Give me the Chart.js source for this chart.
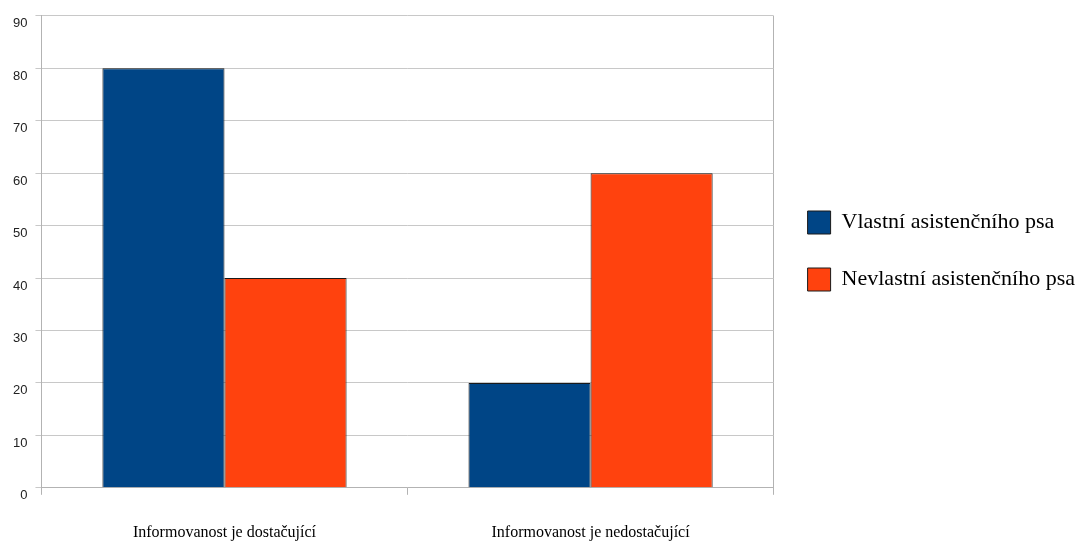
<!DOCTYPE html>
<html>
<head>
<meta charset="utf-8">
<script src="https://cdn.jsdelivr.net/npm/chart.js@4/dist/chart.umd.min.js"></script>
<style>
  html, body { margin: 0; padding: 0; background: #fff; }
  #wrap { width: 1088px; height: 542px; }
</style>
</head>
<body>
<div id="wrap"><canvas id="chart"></canvas></div>
<script>
const categories = ["Informovanost je dostačující", "Informovanost je nedostačující"];
const seriesNames = ["Vlastní asistenčního psa", "Nevlastní asistenčního psa"];
const vlastni = [80, 20];
const nevlastni = [40, 60];
const yTicks = [0, 10, 20, 30, 40, 50, 60, 70, 80, 90];

const colors = ["#004586", "#ff420e"];

new Chart(document.getElementById("chart"), {
  type: "bar",
  data: {
    labels: categories,
    datasets: [
      {
        label: seriesNames[0],
        data: vlastni,
        backgroundColor: colors[0],
        borderColor: "#1a1a1a",
        borderWidth: 1,
      },
      {
        label: seriesNames[1],
        data: nevlastni,
        backgroundColor: colors[1],
        borderColor: "#1a1a1a",
        borderWidth: 1,
      },
    ],
  },
  options: {
    responsive: true,
    maintainAspectRatio: false,
    animation: false,
    layout: { padding: { left: 5, top: 11, right: 3, bottom: -28 } },
    datasets: {
      bar: { categoryPercentage: 0.667, barPercentage: 1.0 },
    },
    plugins: {
      tooltip: { enabled: false },
      legend: {
        position: "right",
        align: "start",
        maxWidth: 340,
        // empty title used only as a spacer so the items sit beside the plot middle
        title: {
          display: true,
          text: " ",
          font: { size: 10 },
          padding: { top: 154, bottom: 0 },
        },
        labels: {
          boxWidth: 23,
          boxHeight: 23,
          padding: 34,
          color: "#000",
          font: { family: "Liberation Serif", size: 22 },
        },
      },
    },
    scales: {
      x: {
        grid: {
          display: true,
          drawOnChartArea: true,
          tickLength: 7,
          color: (ctx) => (ctx.index === 1 ? "rgba(0,0,0,0)" : "#b3b3b3"),
          tickColor: "#b3b3b3",
        },
        border: { color: "#b3b3b3" },
        ticks: {
          color: "#000",
          padding: 28,
          font: { family: "Liberation Serif", size: 16 },
        },
      },
      y: {
        min: 0,
        max: 90,
        afterBuildTicks: (axis) => {
          axis.ticks = yTicks.map((v) => ({ value: v }));
        },
        grid: { color: "#c8c8c8", tickLength: 6, tickColor: "#c8c8c8" },
        border: { color: "#b3b3b3" },
        ticks: {
          color: "#222",
          padding: 8,
          labelOffset: 8,
          font: { family: "Liberation Sans", size: 13 },
        },
      },
    },
  },
});
</script>
</body>
</html>
